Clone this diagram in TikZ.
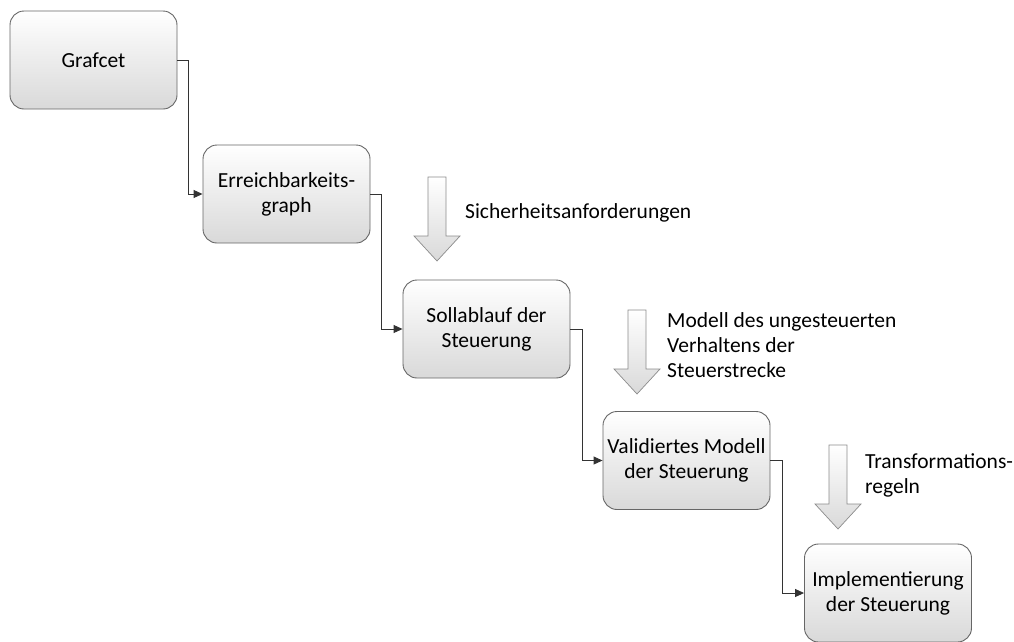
\documentclass[tikz,border=0pt]{standalone}
\usepackage{fontspec}
\setmainfont{Carlito}
\usetikzlibrary{arrows.meta}
\begin{document}
\begin{tikzpicture}[x=1pt,y=-1pt,
  stage/.style={draw=black!60, line width=0.9pt, rounded corners=14pt,
    top color=white, bottom color=black!15, minimum width=167pt, minimum height=98pt,
    align=center, font=\fontsize{21.5}{25}\selectfont, inner sep=0pt},
  link/.style={draw=black!80, line width=0.9pt, -{Triangle[length=9pt,width=8pt]}},
  note/.style={anchor=west, align=left, font=\fontsize{21.5}{25}\selectfont, inner sep=0pt},
  inflow/.style={draw=black!45, line width=0.7pt, top color=white, bottom color=black!15}]
\useasboundingbox (0,0) rectangle (1014,641);

\node[stage] (g) at (93.5,60) {Grafcet};
\node[stage] (e) at (286.5,194) {Erreichbarkeits-\\graph};
\node[stage] (s) at (486.5,329) {Sollablauf der\\Steuerung};
\node[stage] (v) at (686.5,460.5) {Validiertes Modell\\der Steuerung};
\node[stage] (i) at (888,593) {Implementierung\\der Steuerung};

\draw[link] (g.east) -- ++(11,0) |- (e.west);
\draw[link] (e.east) -- ++(11,0) |- (s.west);
\draw[link] (s.east) -- ++(12,0) |- (v.west);
\draw[link] (v.east) -- ++(12,0) |- (i.west);

% block arrows for the extra inputs
\foreach \name/\cx/\ty in {a1/437/177, a2/637/310, a3/838/445}{
  \path[inflow] (\cx-9,\ty) -- (\cx+9,\ty) -- (\cx+9,\ty+59) -- (\cx+23,\ty+59)
    -- (\cx,\ty+84) -- (\cx-23,\ty+59) -- (\cx-9,\ty+59) -- cycle;
  \coordinate (\name) at (\cx+28,\ty+36);
}

\node[note] (n1) at (465,213) {Sicherheitsanforderungen};
\node[note] (n2) at (667,345) {Modell des ungesteuerten\\Verhaltens der\\Steuerstrecke};
\node[note] (n3) at (865,475) {Transformations-\\regeln};
\end{tikzpicture}
\end{document}
